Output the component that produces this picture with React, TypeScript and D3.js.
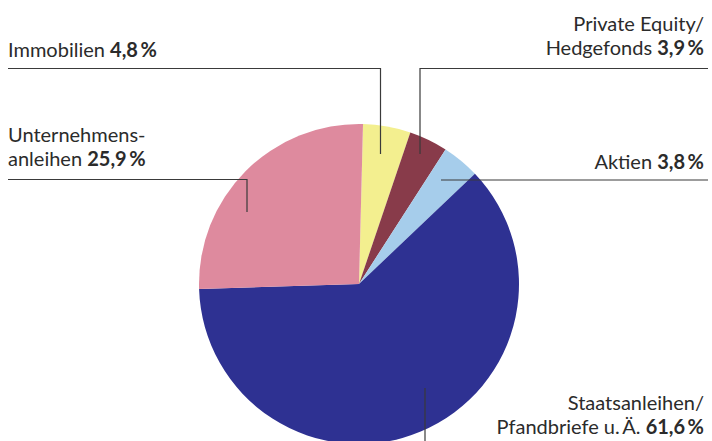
import React from "react";
import * as d3 from "d3";

const categories = ["Immobilien", "Private Equity/Hedgefonds", "Aktien", "Staatsanleihen/Pfandbriefe u. Ä.", "Unternehmensanleihen"];
const values = [4.8, 3.9, 3.8, 61.6, 25.9];
const valueLabels = ["4,8\u2009%", "3,9\u2009%", "3,8\u2009%", "61,6\u2009%", "25,9\u2009%"];
const colors = ["#f3ef8f", "#883b4a", "#a6cdeb", "#2e3192", "#de8a9e"];

const W = 712, H = 441;
const cx = 359, cy = 284, R = 160;
const FONT = "'Source Sans Pro', Lato, 'Noto Sans', sans-serif";
const FS = 20;
const TXT = "#2b2b2b";
const LINE = "#3a3a3a";

export default function App() {
  const pie = d3.pie<number>().sort(null).value(d => d).startAngle(0.025).endAngle(0.025 + 2 * Math.PI);
  const arcs = pie(values);
  const arc = d3.arc<d3.PieArcDatum<number>>().innerRadius(0).outerRadius(R);

  const lbl = (lines: React.ReactNode[], x: number, y0: number, anchor: "start" | "end") => (
    <text x={x} y={y0} textAnchor={anchor} fontFamily={FONT} fontSize={FS} fill={TXT}>
      {lines.map((l, i) => (
        <tspan key={i} x={x} dy={i === 0 ? 0 : 24}>{l}</tspan>
      ))}
    </text>
  );
  const b = (s: string) => <tspan fontWeight="bold">{s}</tspan>;

  return (
    <svg width={W} height={H} style={{ position: "absolute", left: 0, top: 0 }}>
      <rect width={W} height={H} fill="#fff" />
      <g transform={`translate(${cx},${cy})`}>
        {arcs.map((a, i) => (
          <path key={categories[i]} d={arc(a) || ""} fill={colors[i]} />
        ))}
      </g>
      <g fill="none" stroke={LINE} strokeWidth={1.2}>
        <polyline points="8,68.5 380.5,68.5 380.5,154" />
        <polyline points="708,68.5 420,68.5 420,154" />
        <polyline points="708,180 441,180" />
        <polyline points="8,179.5 247,179.5 247,212" />
        <polyline points="425,388 425,441" />
      </g>
      {lbl([<>Immobilien {b(valueLabels[0])}</>], 8, 57, "start")}
      {lbl(["Unternehmens-", <>anleihen {b(valueLabels[4])}</>], 8, 142, "start")}
      {lbl(["Private Equity/", <>Hedgefonds {b(valueLabels[1])}</>], 704, 31, "end")}
      {lbl([<>Aktien {b(valueLabels[2])}</>], 704, 168.5, "end")}
      {lbl(["Staatsanleihen/", <>Pfandbriefe u.{"\u2009"}Ä. {b(valueLabels[3])}</>], 704, 410, "end")}
    </svg>
  );
}
